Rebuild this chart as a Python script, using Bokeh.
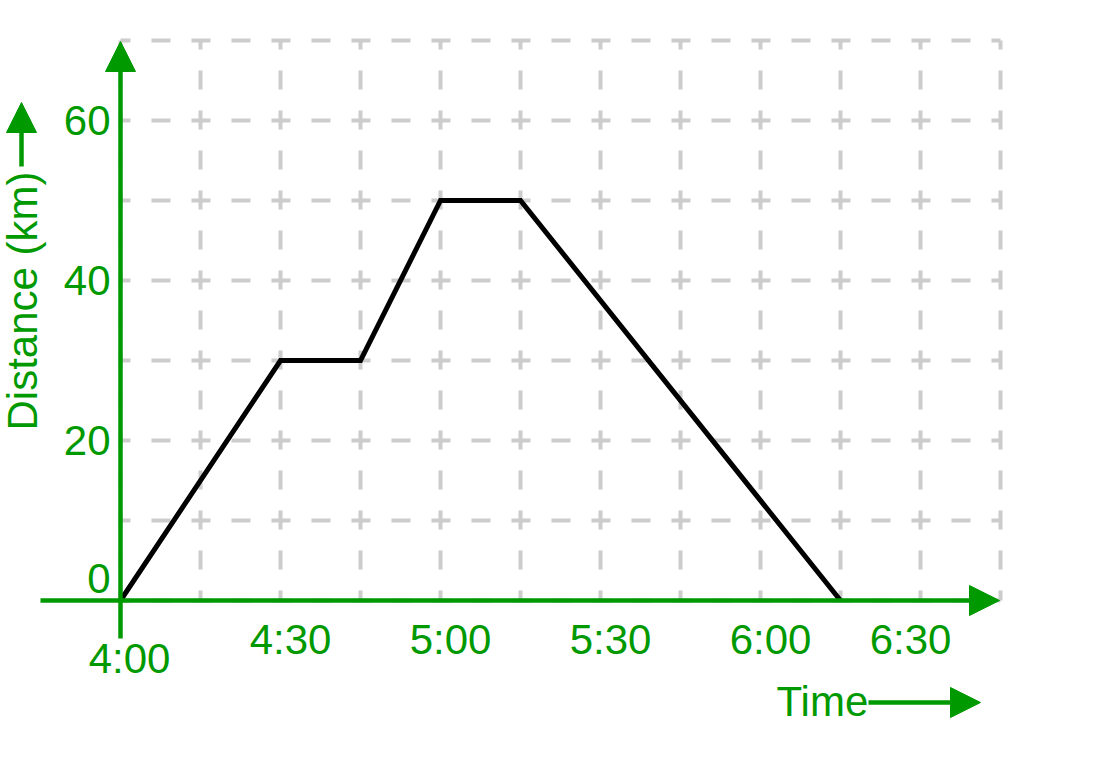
from bokeh.plotting import figure
from bokeh.models import Range1d, Arrow, NormalHead
from bokeh.core.properties import value
from bokeh.embed import file_html
from bokeh.resources import INLINE

# ---- data ----
point_times = ["4:00", "4:30", "4:45", "5:00", "5:15", "6:15"]
point_minutes = [0, 30, 45, 60, 75, 135]          # minutes after 4:00
distance_km = [0, 30, 30, 50, 50, 0]

x_tick_minutes = [0, 30, 60, 90, 120, 150]
x_tick_labels = ["4:00", "4:30", "5:00", "5:30", "6:00", "6:30"]
y_tick_values = [0, 20, 40, 60]
y_tick_labels = ["0", "20", "40", "60"]

grid_x = [0, 15, 30, 45, 60, 75, 90, 105, 120, 135, 150, 165]
grid_y = [0, 10, 20, 30, 40, 50, 60, 70]

# ---- style ----
G = "#009900"
GRID = "#cccccc"
FONT = value("Liberation Sans")
FS = value("42px")
BL = -15  # baseline correction in px

W, H = 1077, 763
# origin (4:00, 0 km) at picture (120, 600); 80px per 15 min, 8px per km
PX_PER_MIN = 80 / 15
PX_PER_KM = 8
X0 = -120 / PX_PER_MIN
X1 = X0 + W / PX_PER_MIN
Y1 = 600 / PX_PER_KM
Y0 = Y1 - H / PX_PER_KM

def px2x(px):
    return X0 + px / PX_PER_MIN

def px2y(py):
    return Y1 - py / PX_PER_KM

p = figure(width=W, height=H, x_range=Range1d(X0, X1), y_range=Range1d(Y0, Y1),
           x_axis_type=None, y_axis_type=None, toolbar_location=None,
           output_backend="svg", min_border=0)
p.outline_line_color = None
p.background_fill_color = "white"
p.border_fill_color = "white"

LW = 4.5

# dashed grid
gx_top = max(grid_y)
gy_right = max(grid_x)
p.segment(x0=grid_x, y0=[0] * len(grid_x), x1=grid_x, y1=[gx_top] * len(grid_x),
          line_color=GRID, line_width=4, line_dash="19 21", line_dash_offset=9)
p.segment(x0=[0] * len(grid_y), y0=grid_y, x1=[gy_right] * len(grid_y), y1=grid_y,
          line_color=GRID, line_width=4, line_dash="19 21", line_dash_offset=9)

# axes with arrows
p.add_layout(Arrow(end=NormalHead(size=30, fill_color=G, line_color=G, line_width=1),
                   x_start=px2x(40), y_start=0, x_end=px2x(999), y_end=0,
                   line_color=G, line_width=LW))
p.add_layout(Arrow(end=NormalHead(size=30, fill_color=G, line_color=G, line_width=1),
                   x_start=0, y_start=px2y(638), x_end=0, y_end=px2y(41),
                   line_color=G, line_width=LW))

# data line
p.line(point_minutes, distance_km, line_color="black", line_width=5, line_join="miter")

# x tick labels
xdx = [10 if t > 0 else 9 for t in x_tick_minutes]
xdx[-1] = -10
xdy = [(54 if t > 0 else 73) + BL for t in x_tick_minutes]
p.text(x=x_tick_minutes, y=[0] * len(x_tick_minutes), text=x_tick_labels,
       x_offset=xdx, y_offset=xdy, text_align="center", text_baseline="alphabetic",
       text_font=FONT, text_font_size=FS, text_color=G)

# y tick labels
ydy = [(15 if v > 0 else -7) + BL for v in y_tick_values]
p.text(x=[0] * len(y_tick_values), y=y_tick_values, text=y_tick_labels,
       x_offset=-10, y_offset=ydy, text_align="right", text_baseline="alphabetic",
       text_font=FONT, text_font_size=FS, text_color=G)

# axis titles
p.text(x=[px2x(37 + BL)], y=[px2y(430)], text=["Distance (km)"], angle=1.5707963,
       text_align="left", text_baseline="alphabetic",
       text_font=FONT, text_font_size=FS, text_color=G)
p.add_layout(Arrow(end=NormalHead(size=30, fill_color=G, line_color=G, line_width=1),
                   x_start=px2x(21), y_start=px2y(166), x_end=px2x(21), y_end=px2y(102),
                   line_color=G, line_width=LW))

p.text(x=[px2x(776)], y=[px2y(716 + BL)], text=["Time"],
       text_align="left", text_baseline="alphabetic",
       text_font=FONT, text_font_size=FS, text_color=G)
p.add_layout(Arrow(end=NormalHead(size=30, fill_color=G, line_color=G, line_width=1),
                   x_start=px2x(868), y_start=px2y(702), x_end=px2x(980), y_end=px2y(702),
                   line_color=G, line_width=LW))

open("out.html", "w").write(file_html(p, INLINE))
